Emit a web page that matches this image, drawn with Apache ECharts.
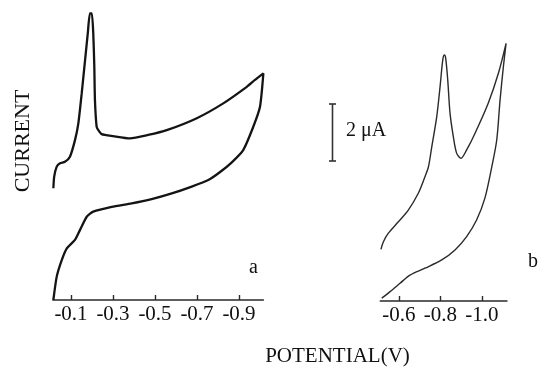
<!DOCTYPE html>
<html>
<head>
<meta charset="utf-8">
<script src="https://cdn.jsdelivr.net/npm/echarts@6/dist/echarts.min.js"></script>
<style>
html,body{margin:0;padding:0;background:#fff;}
#c{width:539px;height:374px;}
</style>
</head>
<body>
<div id="c"></div>
<script>
// Panel a: potential (V) and current (uA), one continuous CV loop
var potA = [-0.016,-0.032,-0.056,-0.080,-0.119,-0.143,-0.175,-0.206,-0.294,-0.389,-0.484,-0.580,-0.675,-0.754,-0.810,-0.867,-0.920,-0.968,-1.000,-1.016,-0.976,-0.937,-0.825,-0.699,-0.556,-0.467,-0.381,-0.301,-0.246,-0.230,-0.222,-0.214,-0.211,-0.206,-0.199,-0.190,-0.180,-0.167,-0.151,-0.135,-0.119,-0.095,-0.071,-0.048,-0.032,-0.020,-0.016];
var curA = [0,0.82,1.40,1.81,2.11,2.46,2.92,3.10,3.27,3.39,3.54,3.74,3.98,4.21,4.49,4.84,5.26,6.08,6.78,7.95,7.72,7.48,6.90,6.38,5.96,5.79,5.67,5.75,5.82,5.96,6.08,7.02,8.19,9.36,10.06,10.06,9.36,8.42,7.25,6.20,5.61,5.03,4.85,4.80,4.68,4.33,3.92];
// Panel b
var potB = [-0.517,-0.557,-0.605,-0.653,-0.725,-0.806,-0.870,-0.926,-0.974,-1.014,-1.047,-1.071,-1.087,-1.103,-1.116,-1.079,-1.030,-0.966,-0.926,-0.899,-0.878,-0.862,-0.846,-0.835,-0.825,-0.819,-0.811,-0.798,-0.782,-0.758,-0.742,-0.725,-0.693,-0.645,-0.597,-0.548,-0.525,-0.513];
var curB = [0.10,0.33,0.62,0.91,1.15,1.44,1.79,2.26,2.84,3.61,4.70,5.65,7.05,8.22,9.04,7.99,6.94,5.88,5.30,5.01,5.18,5.76,6.59,7.75,8.52,8.63,8.46,7.52,6.47,5.41,4.71,4.36,3.78,3.19,2.78,2.37,2.08,1.81];
// tick labels
var ticksA = [-0.1,-0.3,-0.5,-0.7,-0.9];
var ticksB = [-0.6,-0.8,-1.0];
var scaleBarValue = 2; // uA

function pairs(xs, ys){ return xs.map(function(x,i){ return [x, ys[i]]; }); }

var FONT = '"Liberation Serif","DejaVu Serif",serif';
var chart = echarts.init(document.getElementById('c'), null, {renderer:'canvas'});

function xAxisCfg(gi, min, max, ticks){
  return {
    type:'value', gridIndex:gi, inverse:true, min:min, max:max,
    axisLine:{show:true, onZero:false, lineStyle:{color:'#2a2a2a', width:1.6}},
    axisTick:{show:true, inside:true, length:5, customValues:ticks, lineStyle:{color:'#2a2a2a', width:1.4}},
    axisLabel:{show:true, customValues:ticks, margin:4, color:'#111', fontFamily:'Liberation Serif', fontSize:21,
      formatter:function(v){ return '{t|' + Number(v).toFixed(1) + '}'; },
      rich:{t:{fontFamily:'Liberation Serif', fontSize:21, color:'#111'}}},
    splitLine:{show:false}
  };
}
function yAxisCfg(gi){
  return {type:'value', gridIndex:gi, min:0, max:10.5, show:false, splitLine:{show:false}};
}

chart.setOption({
  animation:false,
  backgroundColor:'#fff',
  grid:[
    {left:52.94, right:275.64, top:0.75, bottom:74},
    {left:380.3, right:32.1, top:1.75, bottom:73}
  ],
  xAxis:[xAxisCfg(0,-1.016,-0.014,ticksA), xAxisCfg(1,-1.12,-0.51,ticksB)],
  yAxis:[yAxisCfg(0), yAxisCfg(1)],
  series:[
    {type:'line', xAxisIndex:0, yAxisIndex:0, data:pairs(potA,curA), showSymbol:false, smooth:0.2, clip:false,
      lineStyle:{color:'#141414', width:2.3}},
    {type:'line', xAxisIndex:1, yAxisIndex:1, data:pairs(potB,curB), showSymbol:false, smooth:0.3, clip:false,
      lineStyle:{color:'#2a2a2a', width:1.4}}
  ]
});

// scale bar length from the y scale
var y0 = chart.convertToPixel({yAxisIndex:1}, 0);
var y2 = chart.convertToPixel({yAxisIndex:1}, scaleBarValue);
var barLen = y0 - y2;
var barBottom = 161, barX = 332.5;

chart.setOption({
  graphic:[
    {type:'line', shape:{x1:barX, y1:barBottom-barLen, x2:barX, y2:barBottom}, style:{stroke:'#333', lineWidth:1.6}},
    {type:'line', shape:{x1:barX-3.5, y1:barBottom-barLen, x2:barX+3.5, y2:barBottom-barLen}, style:{stroke:'#333', lineWidth:1.6}},
    {type:'line', shape:{x1:barX-3.5, y1:barBottom, x2:barX+3.5, y2:barBottom}, style:{stroke:'#333', lineWidth:1.6}},
    {type:'text', x:346, y:131, style:{text:'2 \u03bcA', font:'20px '+FONT, fill:'#111', align:'left', verticalAlign:'middle'}},
    {type:'text', x:253.5, y:268, style:{text:'a', font:'20px '+FONT, fill:'#111', align:'center', verticalAlign:'middle'}},
    {type:'text', x:533, y:262, style:{text:'b', font:'20px '+FONT, fill:'#111', align:'center', verticalAlign:'middle'}},
    {type:'text', x:23, y:141, rotation:Math.PI/2, style:{text:'CURRENT', font:'22px '+FONT, fill:'#111', align:'center', verticalAlign:'middle'}},
    {type:'text', x:337.5, y:356, style:{text:'POTENTIAL(V)', font:'21px '+FONT, fill:'#111', align:'center', verticalAlign:'middle'}}
  ]
});
</script>
</body>
</html>
